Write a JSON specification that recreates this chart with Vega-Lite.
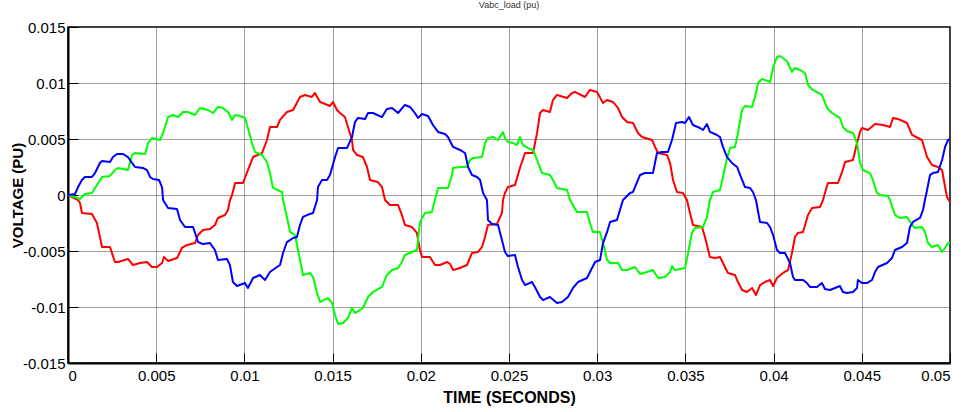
{
  "$schema": "https://vega.github.io/schema/vega-lite/v6.json",
  "width": 882,
  "height": 336,
  "autosize": {"type": "none"},
  "padding": {"left": 68, "top": 27, "right": 15, "bottom": 49},
  "background": "white",
  "title": {"text": "Vabc_load (pu)", "fontSize": 9, "font": "Liberation Sans Narrow, Liberation Sans", "fontWeight": "normal", "color": "#333", "offset": 10, "anchor": "middle"},
  "data": {"values": [
    {"s":"a","t":0,"v":0},{"s":"a","t":0.00057,"v":-0.00045},{"s":"a","t":0.00068,"v":-0.00071},{"s":"a","t":0.00079,"v":-0.00161},{"s":"a","t":0.00136,"v":-0.0017},{"s":"a","t":0.00164,"v":-0.0025},{"s":"a","t":0.00193,"v":-0.00464},{"s":"a","t":0.00238,"v":-0.00464},{"s":"a","t":0.00266,"v":-0.00598},{"s":"a","t":0.00283,"v":-0.00598},{"s":"a","t":0.0034,"v":-0.00571},{"s":"a","t":0.00368,"v":-0.00625},{"s":"a","t":0.00408,"v":-0.00607},{"s":"a","t":0.00448,"v":-0.00598},{"s":"a","t":0.00476,"v":-0.00643},{"s":"a","t":0.00505,"v":-0.00643},{"s":"a","t":0.00533,"v":-0.00607},{"s":"a","t":0.00544,"v":-0.00554},{"s":"a","t":0.00567,"v":-0.00589},{"s":"a","t":0.00618,"v":-0.00563},{"s":"a","t":0.00646,"v":-0.00473},{"s":"a","t":0.00675,"v":-0.00446},{"s":"a","t":0.0072,"v":-0.00429},{"s":"a","t":0.00737,"v":-0.00357},{"s":"a","t":0.00765,"v":-0.00313},{"s":"a","t":0.00805,"v":-0.00304},{"s":"a","t":0.00833,"v":-0.00268},{"s":"a","t":0.0085,"v":-0.00205},{"s":"a","t":0.0089,"v":-0.00179},{"s":"a","t":0.00907,"v":-0.00134},{"s":"a","t":0.00918,"v":-0.00045},{"s":"a","t":0.0093,"v":0},{"s":"a","t":0.00947,"v":0.00107},{"s":"a","t":0.00992,"v":0.00107},{"s":"a","t":0.0102,"v":0.00223},{"s":"a","t":0.01049,"v":0.00339},{"s":"a","t":0.011,"v":0.00375},{"s":"a","t":0.01128,"v":0.00491},{"s":"a","t":0.01145,"v":0.00607},{"s":"a","t":0.01185,"v":0.00607},{"s":"a","t":0.01202,"v":0.0067},{"s":"a","t":0.01241,"v":0.00741},{"s":"a","t":0.01276,"v":0.00759},{"s":"a","t":0.01315,"v":0.00875},{"s":"a","t":0.01344,"v":0.00893},{"s":"a","t":0.01383,"v":0.00875},{"s":"a","t":0.014,"v":0.00911},{"s":"a","t":0.01429,"v":0.0083},{"s":"a","t":0.01485,"v":0.00795},{"s":"a","t":0.01502,"v":0.0083},{"s":"a","t":0.01525,"v":0.00759},{"s":"a","t":0.01542,"v":0.00732},{"s":"a","t":0.0157,"v":0.00696},{"s":"a","t":0.01587,"v":0.00607},{"s":"a","t":0.0161,"v":0.00491},{"s":"a","t":0.01616,"v":0.00402},{"s":"a","t":0.01638,"v":0.00357},{"s":"a","t":0.01672,"v":0.00339},{"s":"a","t":0.01695,"v":0.0025},{"s":"a","t":0.01712,"v":0.00134},{"s":"a","t":0.01757,"v":0.00116},{"s":"a","t":0.0178,"v":0.00071},{"s":"a","t":0.01797,"v":-0.00045},{"s":"a","t":0.01825,"v":-0.00089},{"s":"a","t":0.01871,"v":-0.00089},{"s":"a","t":0.01893,"v":-0.00179},{"s":"a","t":0.0191,"v":-0.00268},{"s":"a","t":0.0195,"v":-0.00286},{"s":"a","t":0.01978,"v":-0.00339},{"s":"a","t":0.01995,"v":-0.00491},{"s":"a","t":0.02007,"v":-0.00554},{"s":"a","t":0.02052,"v":-0.00554},{"s":"a","t":0.0208,"v":-0.00625},{"s":"a","t":0.02109,"v":-0.00625},{"s":"a","t":0.02149,"v":-0.00598},{"s":"a","t":0.02166,"v":-0.00616},{"s":"a","t":0.02183,"v":-0.0067},{"s":"a","t":0.02222,"v":-0.00652},{"s":"a","t":0.02262,"v":-0.00625},{"s":"a","t":0.0229,"v":-0.00518},{"s":"a","t":0.02324,"v":-0.00509},{"s":"a","t":0.02347,"v":-0.00464},{"s":"a","t":0.02364,"v":-0.00375},{"s":"a","t":0.02381,"v":-0.00268},{"s":"a","t":0.02432,"v":-0.00259},{"s":"a","t":0.0246,"v":-0.00161},{"s":"a","t":0.02466,"v":-0.00045},{"s":"a","t":0.02477,"v":0.00018},{"s":"a","t":0.02494,"v":0.00071},{"s":"a","t":0.02534,"v":0.00089},{"s":"a","t":0.02562,"v":0.00241},{"s":"a","t":0.02591,"v":0.00375},{"s":"a","t":0.02636,"v":0.00375},{"s":"a","t":0.02659,"v":0.00554},{"s":"a","t":0.02676,"v":0.00732},{"s":"a","t":0.02693,"v":0.00759},{"s":"a","t":0.02732,"v":0.00741},{"s":"a","t":0.02749,"v":0.00848},{"s":"a","t":0.02772,"v":0.00893},{"s":"a","t":0.02829,"v":0.00866},{"s":"a","t":0.02857,"v":0.00911},{"s":"a","t":0.02874,"v":0.0092},{"s":"a","t":0.02931,"v":0.00875},{"s":"a","t":0.02959,"v":0.00938},{"s":"a","t":0.02999,"v":0.0092},{"s":"a","t":0.03033,"v":0.00821},{"s":"a","t":0.03056,"v":0.00848},{"s":"a","t":0.0309,"v":0.0083},{"s":"a","t":0.03118,"v":0.00777},{"s":"a","t":0.03141,"v":0.00696},{"s":"a","t":0.03169,"v":0.00652},{"s":"a","t":0.03203,"v":0.00643},{"s":"a","t":0.03231,"v":0.00554},{"s":"a","t":0.03254,"v":0.00518},{"s":"a","t":0.03311,"v":0.00491},{"s":"a","t":0.03328,"v":0.00429},{"s":"a","t":0.03345,"v":0.00375},{"s":"a","t":0.03396,"v":0.00357},{"s":"a","t":0.03413,"v":0.00286},{"s":"a","t":0.0343,"v":0.00134},{"s":"a","t":0.03452,"v":0.00027},{"s":"a","t":0.03486,"v":0.00018},{"s":"a","t":0.03509,"v":-0.00045},{"s":"a","t":0.03526,"v":-0.00161},{"s":"a","t":0.03543,"v":-0.00268},{"s":"a","t":0.03594,"v":-0.00286},{"s":"a","t":0.03611,"v":-0.00375},{"s":"a","t":0.03639,"v":-0.00554},{"s":"a","t":0.03668,"v":-0.00563},{"s":"a","t":0.03696,"v":-0.00554},{"s":"a","t":0.03713,"v":-0.00607},{"s":"a","t":0.03741,"v":-0.00696},{"s":"a","t":0.03781,"v":-0.00714},{"s":"a","t":0.03798,"v":-0.00777},{"s":"a","t":0.03821,"v":-0.00848},{"s":"a","t":0.03849,"v":-0.00866},{"s":"a","t":0.03878,"v":-0.0083},{"s":"a","t":0.039,"v":-0.00893},{"s":"a","t":0.03923,"v":-0.00804},{"s":"a","t":0.03951,"v":-0.00777},{"s":"a","t":0.0398,"v":-0.00759},{"s":"a","t":0.03997,"v":-0.00813},{"s":"a","t":0.04019,"v":-0.00741},{"s":"a","t":0.04053,"v":-0.00696},{"s":"a","t":0.04082,"v":-0.0067},{"s":"a","t":0.04104,"v":-0.00518},{"s":"a","t":0.04121,"v":-0.00375},{"s":"a","t":0.04138,"v":-0.00339},{"s":"a","t":0.04167,"v":-0.0033},{"s":"a","t":0.04195,"v":-0.00179},{"s":"a","t":0.04218,"v":-0.00116},{"s":"a","t":0.04263,"v":-0.00107},{"s":"a","t":0.0428,"v":-0.00045},{"s":"a","t":0.04291,"v":0.00018},{"s":"a","t":0.04308,"v":0.00107},{"s":"a","t":0.04365,"v":0.00107},{"s":"a","t":0.04388,"v":0.00205},{"s":"a","t":0.04405,"v":0.00295},{"s":"a","t":0.0445,"v":0.00313},{"s":"a","t":0.04473,"v":0.00464},{"s":"a","t":0.0449,"v":0.00563},{"s":"a","t":0.04501,"v":0.00598},{"s":"a","t":0.04535,"v":0.0058},{"s":"a","t":0.04575,"v":0.00634},{"s":"a","t":0.0462,"v":0.00625},{"s":"a","t":0.0466,"v":0.00607},{"s":"a","t":0.04677,"v":0.00688},{"s":"a","t":0.04705,"v":0.00679},{"s":"a","t":0.04756,"v":0.00643},{"s":"a","t":0.04785,"v":0.00536},{"s":"a","t":0.04819,"v":0.00509},{"s":"a","t":0.04841,"v":0.00491},{"s":"a","t":0.0487,"v":0.00339},{"s":"a","t":0.04898,"v":0.00268},{"s":"a","t":0.04932,"v":0.0025},{"s":"a","t":0.04955,"v":0.00223},{"s":"a","t":0.04972,"v":0.00071},{"s":"a","t":0.04983,"v":-0.00018},{"s":"a","t":0.05,"v":-0.00063},
    {"s":"b","t":0,"v":0},{"s":"b","t":0.0004,"v":-0.00018},{"s":"b","t":0.00068,"v":-0.00036},{"s":"b","t":0.00096,"v":0.00009},{"s":"b","t":0.00136,"v":0.00018},{"s":"b","t":0.00164,"v":0.00089},{"s":"b","t":0.00193,"v":0.00161},{"s":"b","t":0.00238,"v":0.0017},{"s":"b","t":0.00266,"v":0.00223},{"s":"b","t":0.00283,"v":0.00241},{"s":"b","t":0.0034,"v":0.00223},{"s":"b","t":0.00363,"v":0.00357},{"s":"b","t":0.0038,"v":0.00375},{"s":"b","t":0.00437,"v":0.00366},{"s":"b","t":0.00454,"v":0.00464},{"s":"b","t":0.00476,"v":0.00509},{"s":"b","t":0.00522,"v":0.00491},{"s":"b","t":0.00539,"v":0.00554},{"s":"b","t":0.00567,"v":0.00696},{"s":"b","t":0.00595,"v":0.00714},{"s":"b","t":0.00624,"v":0.00696},{"s":"b","t":0.00652,"v":0.00741},{"s":"b","t":0.0068,"v":0.00741},{"s":"b","t":0.0072,"v":0.00714},{"s":"b","t":0.00748,"v":0.00777},{"s":"b","t":0.00794,"v":0.00759},{"s":"b","t":0.00822,"v":0.00732},{"s":"b","t":0.0085,"v":0.00786},{"s":"b","t":0.00879,"v":0.00777},{"s":"b","t":0.00907,"v":0.00741},{"s":"b","t":0.0093,"v":0.0067},{"s":"b","t":0.00947,"v":0.00714},{"s":"b","t":0.00975,"v":0.00705},{"s":"b","t":0.01003,"v":0.00688},{"s":"b","t":0.0102,"v":0.00598},{"s":"b","t":0.01043,"v":0.00464},{"s":"b","t":0.0106,"v":0.00384},{"s":"b","t":0.011,"v":0.00357},{"s":"b","t":0.01128,"v":0.00295},{"s":"b","t":0.01145,"v":0.00196},{"s":"b","t":0.01162,"v":0.00063},{"s":"b","t":0.01213,"v":0.00027},{"s":"b","t":0.01219,"v":-0.00045},{"s":"b","t":0.01241,"v":-0.00196},{"s":"b","t":0.01259,"v":-0.0033},{"s":"b","t":0.01287,"v":-0.00357},{"s":"b","t":0.01304,"v":-0.00491},{"s":"b","t":0.01327,"v":-0.0067},{"s":"b","t":0.01332,"v":-0.00714},{"s":"b","t":0.01372,"v":-0.00696},{"s":"b","t":0.01389,"v":-0.00732},{"s":"b","t":0.01412,"v":-0.00875},{"s":"b","t":0.01429,"v":-0.00955},{"s":"b","t":0.01474,"v":-0.0092},{"s":"b","t":0.01497,"v":-0.00964},{"s":"b","t":0.01514,"v":-0.01071},{"s":"b","t":0.01531,"v":-0.01152},{"s":"b","t":0.01559,"v":-0.01143},{"s":"b","t":0.01587,"v":-0.01098},{"s":"b","t":0.0161,"v":-0.01009},{"s":"b","t":0.01627,"v":-0.01054},{"s":"b","t":0.01655,"v":-0.01027},{"s":"b","t":0.01672,"v":-0.01009},{"s":"b","t":0.01701,"v":-0.00911},{"s":"b","t":0.01729,"v":-0.00866},{"s":"b","t":0.0178,"v":-0.00821},{"s":"b","t":0.01808,"v":-0.00714},{"s":"b","t":0.01837,"v":-0.0067},{"s":"b","t":0.01871,"v":-0.00652},{"s":"b","t":0.01893,"v":-0.00598},{"s":"b","t":0.0191,"v":-0.00536},{"s":"b","t":0.0195,"v":-0.00509},{"s":"b","t":0.01978,"v":-0.00491},{"s":"b","t":0.01984,"v":-0.00402},{"s":"b","t":0.01995,"v":-0.0025},{"s":"b","t":0.02007,"v":-0.00205},{"s":"b","t":0.02024,"v":-0.00161},{"s":"b","t":0.02063,"v":-0.00152},{"s":"b","t":0.0208,"v":-0.00045},{"s":"b","t":0.02098,"v":0.00063},{"s":"b","t":0.02154,"v":0.00063},{"s":"b","t":0.02177,"v":0.00179},{"s":"b","t":0.02183,"v":0.00241},{"s":"b","t":0.02222,"v":0.0025},{"s":"b","t":0.02262,"v":0.0025},{"s":"b","t":0.02279,"v":0.00313},{"s":"b","t":0.02296,"v":0.0033},{"s":"b","t":0.02347,"v":0.00339},{"s":"b","t":0.02364,"v":0.00464},{"s":"b","t":0.02381,"v":0.00509},{"s":"b","t":0.02409,"v":0.00518},{"s":"b","t":0.02438,"v":0.00491},{"s":"b","t":0.02466,"v":0.00563},{"s":"b","t":0.02477,"v":0.00509},{"s":"b","t":0.02494,"v":0.00473},{"s":"b","t":0.02523,"v":0.00464},{"s":"b","t":0.02545,"v":0.00446},{"s":"b","t":0.02562,"v":0.00518},{"s":"b","t":0.02579,"v":0.00446},{"s":"b","t":0.02608,"v":0.0042},{"s":"b","t":0.02636,"v":0.00402},{"s":"b","t":0.02659,"v":0.00313},{"s":"b","t":0.02687,"v":0.00196},{"s":"b","t":0.02732,"v":0.00179},{"s":"b","t":0.02749,"v":0.00134},{"s":"b","t":0.02772,"v":0.00063},{"s":"b","t":0.02829,"v":0.00045},{"s":"b","t":0.02846,"v":-0.00045},{"s":"b","t":0.02885,"v":-0.00152},{"s":"b","t":0.02942,"v":-0.00152},{"s":"b","t":0.02959,"v":-0.0025},{"s":"b","t":0.02976,"v":-0.0033},{"s":"b","t":0.03016,"v":-0.0033},{"s":"b","t":0.03033,"v":-0.00429},{"s":"b","t":0.03056,"v":-0.0058},{"s":"b","t":0.03073,"v":-0.00607},{"s":"b","t":0.03118,"v":-0.00607},{"s":"b","t":0.03141,"v":-0.0067},{"s":"b","t":0.03169,"v":-0.0067},{"s":"b","t":0.03214,"v":-0.00643},{"s":"b","t":0.03243,"v":-0.00705},{"s":"b","t":0.03282,"v":-0.00688},{"s":"b","t":0.03316,"v":-0.0067},{"s":"b","t":0.03345,"v":-0.00741},{"s":"b","t":0.03384,"v":-0.00732},{"s":"b","t":0.03413,"v":-0.00688},{"s":"b","t":0.03424,"v":-0.00634},{"s":"b","t":0.03441,"v":-0.0067},{"s":"b","t":0.03498,"v":-0.00652},{"s":"b","t":0.03515,"v":-0.00518},{"s":"b","t":0.03537,"v":-0.00339},{"s":"b","t":0.03554,"v":-0.00295},{"s":"b","t":0.036,"v":-0.00286},{"s":"b","t":0.03622,"v":-0.00196},{"s":"b","t":0.03639,"v":-0.00045},{"s":"b","t":0.03656,"v":0.00027},{"s":"b","t":0.03696,"v":0.00045},{"s":"b","t":0.03713,"v":0.00161},{"s":"b","t":0.03736,"v":0.0033},{"s":"b","t":0.03753,"v":0.0042},{"s":"b","t":0.03781,"v":0.00429},{"s":"b","t":0.03798,"v":0.00554},{"s":"b","t":0.03821,"v":0.00759},{"s":"b","t":0.03838,"v":0.00795},{"s":"b","t":0.03878,"v":0.00786},{"s":"b","t":0.03895,"v":0.00875},{"s":"b","t":0.03912,"v":0.01},{"s":"b","t":0.03934,"v":0.01036},{"s":"b","t":0.0398,"v":0.01009},{"s":"b","t":0.03997,"v":0.01134},{"s":"b","t":0.04019,"v":0.01232},{"s":"b","t":0.04036,"v":0.01241},{"s":"b","t":0.04076,"v":0.01196},{"s":"b","t":0.04104,"v":0.01098},{"s":"b","t":0.04121,"v":0.01134},{"s":"b","t":0.0415,"v":0.01116},{"s":"b","t":0.04178,"v":0.01089},{"s":"b","t":0.04195,"v":0.00982},{"s":"b","t":0.04223,"v":0.00938},{"s":"b","t":0.04274,"v":0.00893},{"s":"b","t":0.04303,"v":0.00777},{"s":"b","t":0.04331,"v":0.00732},{"s":"b","t":0.04376,"v":0.00688},{"s":"b","t":0.04393,"v":0.00607},{"s":"b","t":0.04416,"v":0.00571},{"s":"b","t":0.0445,"v":0.00554},{"s":"b","t":0.04473,"v":0.00464},{"s":"b","t":0.0449,"v":0.00286},{"s":"b","t":0.04507,"v":0.00223},{"s":"b","t":0.04546,"v":0.00196},{"s":"b","t":0.04563,"v":0.00134},{"s":"b","t":0.04586,"v":0.00018},{"s":"b","t":0.04603,"v":0},{"s":"b","t":0.04648,"v":-0.00009},{"s":"b","t":0.0466,"v":-0.00045},{"s":"b","t":0.04688,"v":-0.00179},{"s":"b","t":0.04716,"v":-0.00205},{"s":"b","t":0.04756,"v":-0.00196},{"s":"b","t":0.04785,"v":-0.00268},{"s":"b","t":0.04802,"v":-0.00295},{"s":"b","t":0.04841,"v":-0.00286},{"s":"b","t":0.04858,"v":-0.0033},{"s":"b","t":0.04875,"v":-0.00429},{"s":"b","t":0.04898,"v":-0.00464},{"s":"b","t":0.04932,"v":-0.00446},{"s":"b","t":0.04955,"v":-0.00509},{"s":"b","t":0.04972,"v":-0.00473},{"s":"b","t":0.04989,"v":-0.00429},{"s":"b","t":0.05,"v":-0.00429},
    {"s":"c","t":0,"v":0},{"s":"c","t":0.0004,"v":0.00009},{"s":"c","t":0.00057,"v":0.00071},{"s":"c","t":0.00079,"v":0.00134},{"s":"c","t":0.00096,"v":0.00161},{"s":"c","t":0.00136,"v":0.00161},{"s":"c","t":0.00153,"v":0.00196},{"s":"c","t":0.00181,"v":0.00286},{"s":"c","t":0.00193,"v":0.00304},{"s":"c","t":0.00238,"v":0.00295},{"s":"c","t":0.00255,"v":0.00339},{"s":"c","t":0.00278,"v":0.00366},{"s":"c","t":0.00312,"v":0.00366},{"s":"c","t":0.0034,"v":0.00339},{"s":"c","t":0.00363,"v":0.00286},{"s":"c","t":0.0038,"v":0.0025},{"s":"c","t":0.00425,"v":0.00241},{"s":"c","t":0.00448,"v":0.00223},{"s":"c","t":0.00465,"v":0.00161},{"s":"c","t":0.00482,"v":0.00143},{"s":"c","t":0.00516,"v":0.00134},{"s":"c","t":0.00533,"v":0.00071},{"s":"c","t":0.00539,"v":-0.00045},{"s":"c","t":0.00567,"v":-0.00116},{"s":"c","t":0.00618,"v":-0.00125},{"s":"c","t":0.00635,"v":-0.00223},{"s":"c","t":0.00663,"v":-0.00286},{"s":"c","t":0.00709,"v":-0.00286},{"s":"c","t":0.00737,"v":-0.0042},{"s":"c","t":0.00765,"v":-0.00438},{"s":"c","t":0.00805,"v":-0.00429},{"s":"c","t":0.00833,"v":-0.00491},{"s":"c","t":0.0085,"v":-0.0058},{"s":"c","t":0.00901,"v":-0.00571},{"s":"c","t":0.00918,"v":-0.00625},{"s":"c","t":0.00935,"v":-0.00777},{"s":"c","t":0.00958,"v":-0.00813},{"s":"c","t":0.01003,"v":-0.00786},{"s":"c","t":0.0102,"v":-0.0083},{"s":"c","t":0.01049,"v":-0.00741},{"s":"c","t":0.01088,"v":-0.00714},{"s":"c","t":0.01117,"v":-0.00759},{"s":"c","t":0.01145,"v":-0.00688},{"s":"c","t":0.01185,"v":-0.00643},{"s":"c","t":0.01202,"v":-0.00625},{"s":"c","t":0.01219,"v":-0.00518},{"s":"c","t":0.01241,"v":-0.0042},{"s":"c","t":0.01276,"v":-0.00384},{"s":"c","t":0.01298,"v":-0.00375},{"s":"c","t":0.01315,"v":-0.00268},{"s":"c","t":0.01332,"v":-0.00196},{"s":"c","t":0.01355,"v":-0.00179},{"s":"c","t":0.01389,"v":-0.00161},{"s":"c","t":0.01412,"v":-0.00045},{"s":"c","t":0.01417,"v":0.00071},{"s":"c","t":0.0144,"v":0.00134},{"s":"c","t":0.01468,"v":0.00134},{"s":"c","t":0.01485,"v":0.00179},{"s":"c","t":0.01514,"v":0.00339},{"s":"c","t":0.01531,"v":0.0042},{"s":"c","t":0.01582,"v":0.0042},{"s":"c","t":0.0161,"v":0.00518},{"s":"c","t":0.01627,"v":0.00652},{"s":"c","t":0.01644,"v":0.00688},{"s":"c","t":0.01684,"v":0.00679},{"s":"c","t":0.01701,"v":0.00732},{"s":"c","t":0.01729,"v":0.00732},{"s":"c","t":0.0178,"v":0.00696},{"s":"c","t":0.01808,"v":0.00768},{"s":"c","t":0.01837,"v":0.00777},{"s":"c","t":0.01871,"v":0.00732},{"s":"c","t":0.0191,"v":0.00804},{"s":"c","t":0.01939,"v":0.00786},{"s":"c","t":0.01967,"v":0.00732},{"s":"c","t":0.01984,"v":0.00688},{"s":"c","t":0.02007,"v":0.00723},{"s":"c","t":0.02041,"v":0.00705},{"s":"c","t":0.02069,"v":0.00625},{"s":"c","t":0.02098,"v":0.00563},{"s":"c","t":0.02137,"v":0.00545},{"s":"c","t":0.02154,"v":0.00518},{"s":"c","t":0.02183,"v":0.00429},{"s":"c","t":0.02222,"v":0.00402},{"s":"c","t":0.02251,"v":0.00375},{"s":"c","t":0.02268,"v":0.0025},{"s":"c","t":0.0229,"v":0.00179},{"s":"c","t":0.02319,"v":0.00161},{"s":"c","t":0.02336,"v":0.00134},{"s":"c","t":0.02353,"v":0.00018},{"s":"c","t":0.02375,"v":-0.00045},{"s":"c","t":0.02381,"v":-0.00223},{"s":"c","t":0.02404,"v":-0.00259},{"s":"c","t":0.02438,"v":-0.00268},{"s":"c","t":0.0246,"v":-0.00402},{"s":"c","t":0.02477,"v":-0.00509},{"s":"c","t":0.02494,"v":-0.00545},{"s":"c","t":0.02534,"v":-0.00536},{"s":"c","t":0.02551,"v":-0.00643},{"s":"c","t":0.02574,"v":-0.00759},{"s":"c","t":0.02591,"v":-0.00804},{"s":"c","t":0.0263,"v":-0.00777},{"s":"c","t":0.02647,"v":-0.00821},{"s":"c","t":0.02676,"v":-0.00911},{"s":"c","t":0.02693,"v":-0.00938},{"s":"c","t":0.02732,"v":-0.00911},{"s":"c","t":0.02772,"v":-0.00964},{"s":"c","t":0.028,"v":-0.00955},{"s":"c","t":0.02834,"v":-0.00911},{"s":"c","t":0.02863,"v":-0.0083},{"s":"c","t":0.02891,"v":-0.00777},{"s":"c","t":0.02942,"v":-0.00741},{"s":"c","t":0.02959,"v":-0.00688},{"s":"c","t":0.02988,"v":-0.00598},{"s":"c","t":0.03016,"v":-0.0058},{"s":"c","t":0.03033,"v":-0.00429},{"s":"c","t":0.03056,"v":-0.0033},{"s":"c","t":0.03073,"v":-0.00241},{"s":"c","t":0.03112,"v":-0.00223},{"s":"c","t":0.03129,"v":-0.00134},{"s":"c","t":0.03146,"v":-0.00045},{"s":"c","t":0.03158,"v":-0.00027},{"s":"c","t":0.03186,"v":0.00018},{"s":"c","t":0.03203,"v":0.00027},{"s":"c","t":0.03243,"v":0.00179},{"s":"c","t":0.03271,"v":0.00196},{"s":"c","t":0.03316,"v":0.00196},{"s":"c","t":0.03339,"v":0.00375},{"s":"c","t":0.03367,"v":0.00384},{"s":"c","t":0.03401,"v":0.00384},{"s":"c","t":0.03424,"v":0.00491},{"s":"c","t":0.03447,"v":0.00643},{"s":"c","t":0.03481,"v":0.00652},{"s":"c","t":0.03498,"v":0.00643},{"s":"c","t":0.0352,"v":0.00696},{"s":"c","t":0.03543,"v":0.00625},{"s":"c","t":0.03583,"v":0.00598},{"s":"c","t":0.036,"v":0.0058},{"s":"c","t":0.03622,"v":0.00634},{"s":"c","t":0.03639,"v":0.00563},{"s":"c","t":0.03679,"v":0.00536},{"s":"c","t":0.03696,"v":0.00518},{"s":"c","t":0.03713,"v":0.00429},{"s":"c","t":0.03736,"v":0.00339},{"s":"c","t":0.03764,"v":0.00286},{"s":"c","t":0.03793,"v":0.0025},{"s":"c","t":0.0381,"v":0.00179},{"s":"c","t":0.03838,"v":0.00071},{"s":"c","t":0.03866,"v":0.00063},{"s":"c","t":0.03883,"v":0.00027},{"s":"c","t":0.039,"v":-0.00045},{"s":"c","t":0.03923,"v":-0.00241},{"s":"c","t":0.03963,"v":-0.0025},{"s":"c","t":0.0398,"v":-0.00286},{"s":"c","t":0.03997,"v":-0.00357},{"s":"c","t":0.04019,"v":-0.00491},{"s":"c","t":0.04036,"v":-0.00518},{"s":"c","t":0.04065,"v":-0.00518},{"s":"c","t":0.04093,"v":-0.00607},{"s":"c","t":0.0411,"v":-0.00732},{"s":"c","t":0.04121,"v":-0.00759},{"s":"c","t":0.04167,"v":-0.00759},{"s":"c","t":0.04189,"v":-0.00786},{"s":"c","t":0.04206,"v":-0.00821},{"s":"c","t":0.04246,"v":-0.00821},{"s":"c","t":0.04274,"v":-0.00786},{"s":"c","t":0.04291,"v":-0.00839},{"s":"c","t":0.0432,"v":-0.00848},{"s":"c","t":0.04348,"v":-0.0083},{"s":"c","t":0.04376,"v":-0.00813},{"s":"c","t":0.04393,"v":-0.00866},{"s":"c","t":0.04416,"v":-0.00875},{"s":"c","t":0.0445,"v":-0.00866},{"s":"c","t":0.04473,"v":-0.0083},{"s":"c","t":0.04478,"v":-0.00759},{"s":"c","t":0.04501,"v":-0.00786},{"s":"c","t":0.04529,"v":-0.00786},{"s":"c","t":0.04558,"v":-0.00759},{"s":"c","t":0.04575,"v":-0.00688},{"s":"c","t":0.04592,"v":-0.00643},{"s":"c","t":0.04643,"v":-0.00607},{"s":"c","t":0.04671,"v":-0.00563},{"s":"c","t":0.04688,"v":-0.00491},{"s":"c","t":0.04728,"v":-0.00464},{"s":"c","t":0.04756,"v":-0.00429},{"s":"c","t":0.04773,"v":-0.00286},{"s":"c","t":0.0479,"v":-0.00241},{"s":"c","t":0.0483,"v":-0.00205},{"s":"c","t":0.04847,"v":-0.00134},{"s":"c","t":0.04858,"v":-0.00045},{"s":"c","t":0.0487,"v":0.00045},{"s":"c","t":0.04887,"v":0.00179},{"s":"c","t":0.04904,"v":0.00196},{"s":"c","t":0.04932,"v":0.00205},{"s":"c","t":0.04955,"v":0.00313},{"s":"c","t":0.04972,"v":0.00429},{"s":"c","t":0.04989,"v":0.00491},{"s":"c","t":0.05,"v":0.005}
  ]},
  "mark": {"type": "line", "strokeWidth": 2, "strokeJoin": "round", "clip": true},
  "encoding": {
    "x": {"field": "t", "type": "quantitative", "title": "TIME (SECONDS)",
      "scale": {"domain": [0, 0.05], "nice": false, "zero": false},
      "axis": {"values": [0, 0.005, 0.01, 0.015, 0.02, 0.025, 0.03, 0.035, 0.04, 0.045, 0.05], "labelExpr": "toString(datum.value)", "titleFont": "Liberation Sans Narrow, Liberation Sans", "titleFontSize": 16, "titleY": 34, "titleBaseline": "middle", "labelPadding": 15}},
    "y": {"field": "v", "type": "quantitative", "title": "VOLTAGE (PU)",
      "scale": {"domain": [-0.015, 0.015], "nice": false, "zero": false},
      "axis": {"values": [-0.015, -0.01, -0.005, 0, 0.005, 0.01, 0.015], "labelExpr": "toString(datum.value)", "titleFont": "Liberation Sans", "titleFontSize": 15, "titleX": -51, "titleY": 168, "titleBaseline": "middle", "titleAlign": "center", "labelPadding": 13}},
    "color": {"field": "s", "type": "nominal", "legend": null,
      "scale": {"domain": ["a", "b", "c"], "range": ["#ff0000", "#00ff00", "#0000ff"]}}
  },
  "config": {
    "view": {"stroke": "#000000", "strokeWidth": 1.5},
    "axis": {
      "domainColor": "#000000", "domainWidth": 2,
      "grid": true, "gridColor": "#444444", "gridDash": [1, 1], "gridWidth": 1, "gridOpacity": 1,
      "ticks": true, "tickColor": "#000000", "tickSize": -10, "tickWidth": 1,
      "labelFont": "Liberation Sans Narrow, Liberation Sans", "labelFontSize": 15, "labelColor": "#000000",
      "titleFontWeight": "bold", "titleColor": "#000000"
    }
  }
}
